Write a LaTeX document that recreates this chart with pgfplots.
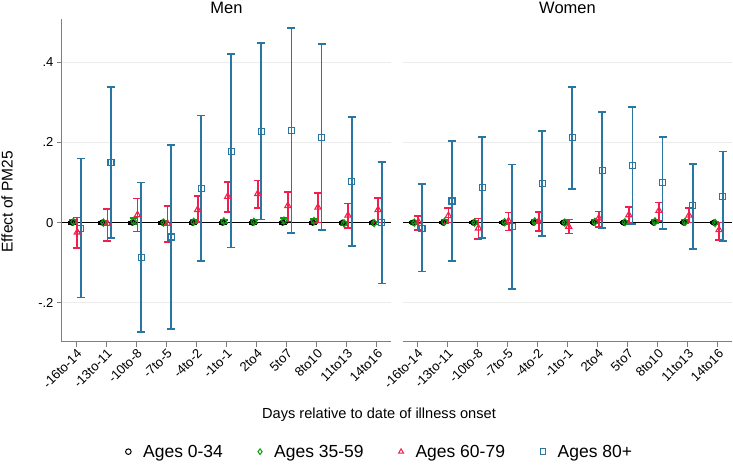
\documentclass[border=0pt]{standalone}
\usepackage{fontspec}
\setmainfont{Liberation Sans}
\usepackage{pgfplots}
\usepackage{pgfplotstable}
\pgfplotsset{compat=1.18}

\definecolor{cGreen}{HTML}{0A9A0A}
\definecolor{cRed}{HTML}{F41E4E}
\definecolor{cBlue}{HTML}{2A76A2}
\definecolor{axGray}{HTML}{7F7F7F}

% columns: category, ages 0-34 (c), 35-59 (d), 60-79 (t), 80+ (s) with lower/upper CI
\pgfplotstableread{
x  c      clo     chi    d      dlo     dhi    t      tlo     thi    s      slo     shi
0  0.000 -0.003  0.003  0.002 -0.002  0.006 -0.024 -0.064  0.013 -0.014 -0.187  0.160
1  0.000 -0.003  0.003  0.000 -0.004  0.004 -0.002 -0.046  0.034  0.150 -0.039  0.339
2  0.000 -0.003  0.003  0.004 -0.003  0.012  0.019 -0.022  0.060 -0.086 -0.273  0.100
3  0.000 -0.003  0.003  0.000 -0.004  0.004 -0.002 -0.048  0.041 -0.036 -0.265  0.194
4  0.000 -0.003  0.003  0.002 -0.002  0.006  0.032  0.001  0.067  0.085 -0.095  0.267
5  0.000 -0.003  0.003  0.003 -0.001  0.007  0.065  0.027  0.102  0.177 -0.062  0.421
6  0.000 -0.003  0.003  0.002 -0.002  0.006  0.072  0.036  0.105  0.227  0.008  0.448
7  0.000 -0.003  0.003  0.005 -0.002  0.012  0.042  0.003  0.077  0.229 -0.026  0.485
8  0.000 -0.003  0.003  0.004 -0.001  0.009  0.038  0.000  0.073  0.212 -0.018  0.445
9  0.000 -0.003  0.003 -0.002 -0.006  0.003  0.018 -0.014  0.048  0.102 -0.059  0.264
10 0.000 -0.003  0.003 -0.001 -0.005  0.003  0.032  0.000  0.062  0.001 -0.152  0.152
}\men

\pgfplotstableread{
x  c      clo     chi    d      dlo     dhi    t      tlo     thi    s      slo     shi
0  0.000 -0.002  0.002  0.000 -0.004  0.004  0.002 -0.018  0.017 -0.014 -0.122  0.096
1  0.000 -0.002  0.002  0.002 -0.002  0.006  0.017  0.000  0.036  0.054 -0.096  0.204
2  0.000 -0.002  0.002  0.000 -0.004  0.004 -0.014 -0.041  0.010  0.087 -0.039  0.214
3  0.000 -0.002  0.002  0.001 -0.003  0.005  0.004 -0.020  0.025 -0.010 -0.165  0.145
4  0.000 -0.002  0.002  0.003 -0.001  0.007  0.003 -0.021  0.027  0.097 -0.033  0.229
5  0.000 -0.002  0.002  0.000 -0.004  0.004 -0.010 -0.027  0.008  0.212  0.084  0.339
6  0.000 -0.002  0.002  0.002 -0.002  0.006  0.011 -0.011  0.028  0.131 -0.014  0.276
7  0.000 -0.002  0.002  0.001 -0.003  0.005  0.019  0.000  0.039  0.142 -0.003  0.289
8  0.000 -0.002  0.002  0.003 -0.001  0.007  0.030  0.004  0.050  0.099 -0.016  0.214
9  0.000 -0.002  0.002  0.002 -0.002  0.006  0.018  0.000  0.037  0.042 -0.065  0.147
10 0.000 -0.002  0.002 -0.001 -0.005  0.003 -0.018 -0.043  0.000  0.066 -0.046  0.177
}\women

\newcommand{\tickfont}{\fontsize{13}{15}\selectfont}

\pgfplotsset{
  panel/.style={
    scale only axis, width=329pt, height=322.4pt,
    xmin=-0.47, xmax=10.47, ymin=-0.297, ymax=0.507,
    axis x line*=bottom, axis y line*=left,
    axis line style={axGray, line width=1pt, -},
    tick align=outside, major tick length=5pt,
    tick style={axGray, line width=0.9pt},
    xtick={0,...,10},
    xticklabels={-16to-14,-13to-11,-10to-8,-7to-5,-4to-2,-1to-1,2to4,5to7,8to10,11to13,14to16},
    xticklabel style={rotate=45, anchor=north east, inner sep=1pt, font=\tickfont},
    ytick={-0.2,0,0.2,0.4},
    yticklabels={-.2,0,.2,.4},
    yticklabel style={font=\tickfont},
    ymajorgrids, grid style={gray!15, line width=0.8pt},
    extra y ticks={0}, extra y tick labels={},
    extra y tick style={grid style={black, line width=1.6pt}, tick style={draw=none}},
    every axis title shift=0pt,
    title style={at={(0.5,1)}, anchor=center, yshift=11.3pt, font=\fontsize{16.5}{18}\selectfont},
    clip=false,
  },
  ci/.style={only marks, line width=1.1pt,
    error bars/y dir=both, error bars/y explicit,
    error bars/error bar style={#1, line width=1.8pt},
    error bars/error mark options={#1, rotate=90, mark size=4pt, line width=1.7pt}},
}

\newcommand{\cis}[1]{%
  \addplot[ci=black, black, mark=o, mark size=2.6pt] table[x expr=\thisrow{x}-0.13, y=c,
    y error plus expr=\thisrow{chi}-\thisrow{c}, y error minus expr=\thisrow{c}-\thisrow{clo}] {#1};
  \addplot[ci=cGreen, cGreen, mark=diamond, mark size=3.6pt] table[x expr=\thisrow{x}-0.09, y=d,
    y error plus expr=\thisrow{dhi}-\thisrow{d}, y error minus expr=\thisrow{d}-\thisrow{dlo}] {#1};
  \addplot[ci=cRed, cRed, mark=triangle, mark size=3.6pt] table[x expr=\thisrow{x}+0.04, y=t,
    y error plus expr=\thisrow{thi}-\thisrow{t}, y error minus expr=\thisrow{t}-\thisrow{tlo}] {#1};
  \addplot[ci=cBlue, cBlue, mark=square, mark size=3pt] table[x expr=\thisrow{x}+0.16, y=s,
    y error plus expr=\thisrow{shi}-\thisrow{s}, y error minus expr=\thisrow{s}-\thisrow{slo}] {#1};
}

\begin{document}
\begin{tikzpicture}
\useasboundingbox (-62pt,-122.3pt) rectangle (671pt,341.7pt);

\begin{axis}[panel, at={(0pt,0pt)}, anchor=south west, title={Men},
  ylabel={Effect of PM25},
  every axis y label/.style={at={(axis description cs:-0.167,0.434)}, rotate=90,
    anchor=center, font=\fontsize{15.5}{17}\selectfont},
  legend columns=4,
  legend style={at={(axis description cs:0.966,-0.341)}, anchor=center, draw=none,
    font=\fontsize{17.5}{19}\selectfont,
    /tikz/every odd column/.append style={column sep=10pt},
    /tikz/every even column/.append style={column sep=33pt}},
  legend image code/.code={\draw[mark repeat=2, mark phase=2, #1, mark size=2.8pt, line width=1pt]
    plot coordinates {(0pt,0pt) (5pt,0pt) (10pt,0pt)};},
]
\cis{\men}
\legend{Ages 0-34, Ages 35-59, Ages 60-79, Ages 80+}
\end{axis}

\begin{axis}[panel, at={(341pt,0pt)}, anchor=south west, title={Women},
  yticklabels={}, y axis line style={draw=none}, ytick style={draw=none},
]
\cis{\women}
\end{axis}

\node[font=\fontsize{14.6}{16}\selectfont] at (317pt,-73pt) {Days relative to date of illness onset};
\end{tikzpicture}
\end{document}
